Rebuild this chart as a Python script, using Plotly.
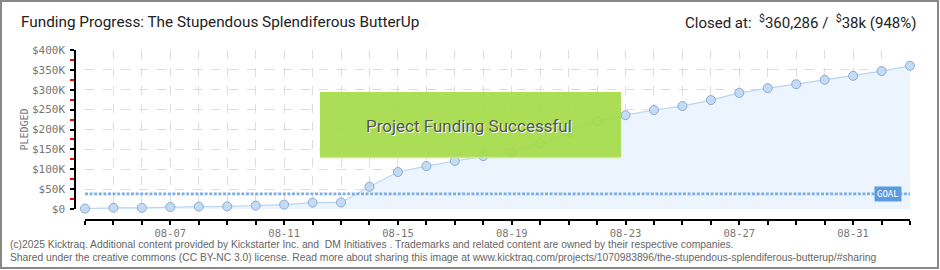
import plotly.graph_objects as go
import pandas as pd

# ---------------- data ----------------
dates = pd.date_range("2025-08-04", "2025-09-02", freq="D").strftime("%Y-%m-%d").tolist()
pledged = [1000, 3000, 3000, 5000, 6000, 6500, 8500, 11000, 16000, 16500,
           56000, 93000, 108000, 121000, 133000, 142000, 165000, 193000, 221000, 236000,
           249000, 259000, 274000, 292000, 304000, 314000, 325000, 335000, 347000, 360286]
goal = 38000
y_tickvals = [0, 50000, 100000, 150000, 200000, 250000, 300000, 350000, 400000]
y_ticktext = ["$0", "$50K", "$100K", "$150K", "$200K", "$250K", "$300K", "$350K", "$400K"]
x_ticktext = [d[5:] if (i - 3) % 4 == 0 else "" for i, d in enumerate(dates)]

title_text = "Funding Progress: The Stupendous Splendiferous ButterUp"
closed_text = "Closed at:  <sup>$</sup>360,286 /  <sup>$</sup>38k (948%)"
footer1 = "(c)2025 Kicktraq. Additional content provided by Kickstarter Inc. and  DM Initiatives . Trademarks and related content are owned by their respective companies."
footer2 = "Shared under the creative commons (CC BY-NC 3.0) license. Read more about sharing this image at www.kicktraq.com/projects/1070983896/the-stupendous-splendiferous-butterup/#sharing"

# ---------------- geometry helpers (pixel -> paper) ----------------
W, H = 940, 270
L, R, T, B = 75, 30, 50, 50
PW, PH = W - L - R, H - T - B


def px(x):
    return (x - L) / PW


def py(y):
    return (H - B - y) / PH


fig = go.Figure()

fig.add_trace(go.Scatter(
    x=dates, y=pledged, mode="lines+markers", fill="tozeroy",
    fillcolor="#ecf4fd", line=dict(color="#b8d6f4", width=1.2),
    marker=dict(size=9, color="#c2dcf7", line=dict(color="#8ea9cc", width=1)),
    cliponaxis=False, showlegend=False, hoverinfo="x+y",
))

fig.add_trace(go.Scatter(
    x=[dates[0], dates[-1]], y=[goal, goal], mode="lines",
    line=dict(color="#7eaee6", width=2.6, dash="3px,1.6px"),
    cliponaxis=False, showlegend=False, hoverinfo="skip",
))

mono = "DejaVu Sans Mono"

fig.update_layout(
    width=W, height=H,
    margin=dict(l=L, r=R, t=T, b=B),
    paper_bgcolor="white", plot_bgcolor="rgba(0,0,0,0)",
    xaxis=dict(
        type="date", range=[dates[0], dates[-1]],
        domain=[px(85), 1], anchor="free", position=0,
        tickvals=dates, ticktext=x_ticktext,
        showline=True, linecolor="black", linewidth=1.5,
        ticks="outside", ticklen=4, tickwidth=1.5, tickcolor="black",
        showgrid=True, gridcolor="#dddddd", griddash="dash", gridwidth=1,
        tickfont=dict(family=mono, size=10.5, color="#777777"),
        ticklabelstandoff=0,
        zeroline=False, fixedrange=True,
    ),
    yaxis=dict(
        range=[0, 400000], domain=[py(209), 1], anchor="free", position=0,
        tickvals=y_tickvals, ticktext=y_ticktext,
        showline=True, linecolor="black", linewidth=1.5,
        ticks="outside", ticklen=4, tickwidth=1.5, tickcolor="black",
        minor=dict(tick0=25000, dtick=50000, ticks="outside",
                   ticklen=4, tickcolor="red", tickwidth=1.5, showgrid=False),
        showgrid=True, gridcolor="#dddddd", griddash="dash", gridwidth=1,
        tickfont=dict(family=mono, size=11, color="#777777"),
        ticklabelstandoff=3,
        title=dict(text="PLEDGED", font=dict(family=mono, size=10, color="#777777"),
                   standoff=0),
        zeroline=False, fixedrange=True,
    ),
)

shapes = [
    # success box
    dict(type="rect", xref="paper", yref="paper",
         x0=px(320), x1=px(621), y0=py(158), y1=py(92),
         fillcolor="rgba(164,219,72,0.92)", line=dict(width=0), layer="above"),
    dict(type="line", xref="paper", yref="paper",
         x0=px(320), x1=px(621), y0=py(157.5), y1=py(157.5),
         line=dict(color="#c9ea8c", width=1.5), layer="above"),
    # outer frame
    dict(type="rect", xref="paper", yref="paper",
         x0=px(1), x1=px(938), y0=py(268), y1=py(1),
         line=dict(color="#888888", width=2), fillcolor="rgba(0,0,0,0)", layer="above"),
]
fig.update_layout(shapes=shapes)

annotations = [
    dict(text=title_text, xref="paper", yref="paper", x=px(19), y=py(22),
         xanchor="left", yanchor="middle", showarrow=False,
         font=dict(family="Roboto", size=15.3, color="#222222")),
    dict(text=closed_text, xref="paper", yref="paper", x=px(919), y=py(22),
         xanchor="right", yanchor="middle", showarrow=False,
         font=dict(family="Roboto", size=15, color="#222222")),
    dict(text="Project Funding Successful", xref="paper", yref="paper",
         x=px(469), y=py(126), xanchor="center", yanchor="middle", showarrow=False,
         font=dict(family="Roboto", size=17, color="#555555",
                   shadow="1px 1px 0px white")),
    dict(text="GOAL", xref="paper", yref="y", x=px(888), y=goal,
         xanchor="center", yanchor="middle", showarrow=False,
         bgcolor="#5b9be0", borderpad=2,
         font=dict(family=mono, size=9, color="white")),
    dict(text=footer1, xref="paper", yref="paper", x=px(8), y=py(244),
         xanchor="left", yanchor="middle", showarrow=False,
         font=dict(family="Liberation Sans", size=10.3, color="#666666")),
    dict(text=footer2, xref="paper", yref="paper", x=px(8), y=py(257),
         xanchor="left", yanchor="middle", showarrow=False,
         font=dict(family="Liberation Sans", size=10.3, color="#666666")),
]
fig.update_layout(annotations=annotations)

fig.write_html("out.html")
